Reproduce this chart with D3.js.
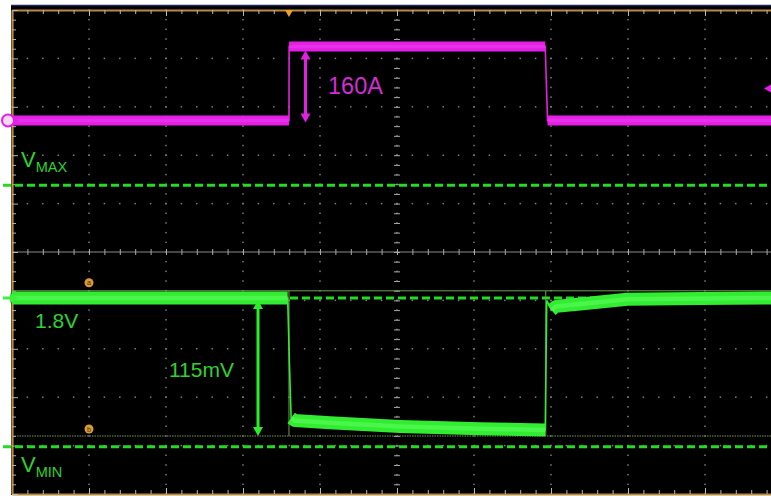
<!DOCTYPE html>
<html><head><meta charset="utf-8">
<script src="https://cdn.jsdelivr.net/npm/d3@7"></script>
<style>html,body{margin:0;padding:0;background:#fff;overflow:hidden}</style>
</head><body>
<svg id="c" width="771" height="496"></svg>
<script>
// ---------------- DATA ----------------
// time axis in divisions (10 div across screen, 0 = centre)
const xDivs = [-5, 5];
const yDivs = [-5, 5];
// Channel 1 : load current step (A)
const iTime = [-5.0, -1.403, -1.401, 1.925, 1.955, 5.0];
const iAmps = [0, 0, 160, 160, 0, 0];
const iTrigLevel = 69;            // A
const iStepLabel = "160A";
// Channel 2 : output voltage deviation from 1.8 V (mV)
const vTime = [-5.0, -3.5, -2.5, -1.42, -1.396, -1.375, -1.33, -0.87, 0.04, 1.08, 1.925,
               1.945, 2.006, 2.065, 2.38, 2.99, 3.94, 4.86];
const vDev  = [0, 0, 0, 0, -57, -100, -102, -104, -107, -109, -110,
               -2, -10, -7, -5, -1, -0.5, 0];
const vNominalLabel = "1.8V";
const vMaxDev = 94;     // mV  (V_MAX limit)
const vMinDev = -124;   // mV  (V_MIN limit)
const cursorA = 6;      // mV
const cursorB = -115;   // mV
const vDropLabel = "115mV";
const edgeTimes = [-1.403, 1.932];

// ---------------- SCALES ----------------
const svg = d3.select("#c");
const x = d3.scaleLinear().domain(xDivs).range([12, 782]);
const yDiv = d3.scaleLinear().domain(yDivs).range([494, 10]);
const yI = d3.scaleLinear().domain([0, 160]).range([120.5, 46.5]);
const yV = d3.scaleLinear().domain([-115, 0]).range([436, 298]);

const GRID = "#7c7c7c", BORDER = "#b88a3e", TICK = "#b8b8b8";
const MAG = "#e41fe4", MAGT = "#d42cd4";
const GRN = "#32ec32", GRNT = "#2ed22e", DASH = "#22dc22", CUR = "#6f9f4f";
const FONT = "'Liberation Sans', Arial, sans-serif";

// background
svg.append("rect").attr("x", 0).attr("y", 0).attr("width", 771).attr("height", 496).attr("fill", "#fff");
svg.append("rect").attr("x", 8).attr("y", 5).attr("width", 763).attr("height", 490).attr("fill", "#000");
svg.append("line").attr("x1", 8).attr("x2", 771).attr("y1", 5.5).attr("y2", 5.5).attr("stroke", "#23235f").attr("stroke-width", 1.5);
svg.append("rect").attr("x", 0).attr("y", 0).attr("width", 11).attr("height", 496).attr("fill", "#fff");

// ---------------- GRID (dots) ----------------
const majorX = d3.range(-4, 5, 1).filter(d => d !== 0);
const majorY = d3.range(-4, 5, 1).filter(d => d !== 0);
const minorX = d3.range(-5, 5.001, 0.2);
const minorY = d3.range(-5, 5.001, 0.2);
const dots = svg.append("g");
function dot(px, py) {
  dots.append("rect").attr("x", px - 0.75).attr("y", py - 0.75).attr("width", 1.5).attr("height", 1.5).attr("fill", GRID);
}
majorX.forEach(mx => minorY.forEach(my => dot(x(mx), yDiv(my))));
majorY.forEach(my => minorX.forEach(mx => dot(x(mx), yDiv(my))));
minorY.forEach(my => dot(x(0), yDiv(my)));
// horizontal centre solid
svg.append("line").attr("x1", 12).attr("x2", 771).attr("y1", yDiv(0)).attr("y2", yDiv(0)).attr("stroke", "#8a8a8a").attr("stroke-width", 1);

const styleAxis = (g, col) => { g.selectAll(".tick line").attr("stroke", col); g.selectAll("text").remove(); };
// centre ticks
svg.append("g").attr("transform", `translate(0,${yDiv(0) - 3})`)
  .call(d3.axisBottom(x).tickValues(minorX).tickSize(6).tickFormat(""))
  .call(g => { g.select(".domain").remove(); styleAxis(g, "#a8a8a8"); });
svg.append("g").attr("transform", `translate(${x(0) - 3},0)`)
  .call(d3.axisRight(yDiv).tickValues(minorY).tickSize(6).tickFormat(""))
  .call(g => { g.select(".domain").remove(); styleAxis(g, "#a8a8a8"); });

// ---------------- BORDERS (axes) ----------------
const tickLen = d => (Math.abs(d - Math.round(d)) < 1e-6 ? 6 : 4);
const topAx = svg.append("g").attr("transform", "translate(0,10)")
  .call(d3.axisBottom(x).tickValues(minorX).tickSizeOuter(0).tickFormat(""));
const botAx = svg.append("g").attr("transform", "translate(0,494)")
  .call(d3.axisTop(x).tickValues(minorX).tickSizeOuter(0).tickFormat(""));
const leftAx = svg.append("g").attr("transform", "translate(12,0)")
  .call(d3.axisRight(yDiv).tickValues(minorY).tickSizeOuter(0).tickFormat(""));
topAx.selectAll(".tick line").attr("y2", d => tickLen(d));
botAx.selectAll(".tick line").attr("y2", d => -tickLen(d));
leftAx.selectAll(".tick line").attr("x2", d => tickLen(d));
[topAx, botAx, leftAx].forEach(g => {
  g.select(".domain").attr("stroke", BORDER).attr("stroke-width", 2.2);
  g.selectAll(".tick line").attr("stroke", TICK);
});

// ---------------- LIMIT LINES ----------------
const dashLine = (y, x1) => svg.append("line").attr("x1", x1).attr("x2", 771).attr("y1", y).attr("y2", y)
  .attr("stroke", DASH).attr("stroke-width", 3).attr("stroke-dasharray", "8,4");
dashLine(yV(vMaxDev), 3);
dashLine(yV(vMinDev), 3);
dashLine(yV(0), x(edgeTimes[0]) + 1);
// cursors
svg.append("line").attr("x1", 12).attr("x2", 771).attr("y1", yV(cursorA)).attr("y2", yV(cursorA))
  .attr("stroke", CUR).attr("stroke-width", 1);
svg.append("line").attr("x1", 12).attr("x2", 771).attr("y1", yV(cursorB)).attr("y2", yV(cursorB))
  .attr("stroke", CUR).attr("stroke-width", 1).attr("stroke-dasharray", "1.5,1");
edgeTimes.forEach(t => svg.append("line").attr("x1", x(t)).attr("x2", x(t))
  .attr("y1", yV(cursorA)).attr("y2", yV(cursorB)).attr("stroke", CUR).attr("stroke-width", 1));

// ---------------- TRACES ----------------
function drawTrace(times, vals, ys, col, thick, core) {
  const pts = times.map((t, i) => [x(t), ys(vals[i])]);
  const line = d3.line();
  svg.append("path").attr("d", line(pts)).attr("fill", "none").attr("stroke", col).attr("stroke-width", 1.6);
  const runs = []; let cur = null;
  for (let i = 0; i < pts.length - 1; i++) {
    const dx = pts[i + 1][0] - pts[i][0], dy = Math.abs(pts[i + 1][1] - pts[i][1]);
    const flat = dx > 0 && dy / dx < 1.5;
    if (flat) { if (!cur) { cur = [pts[i]]; runs.push(cur); } cur.push(pts[i + 1]); }
    else cur = null;
  }
  runs.forEach(r => {
    svg.append("path").attr("d", line(r)).attr("fill", "none").attr("stroke", col)
      .attr("stroke-width", thick).attr("stroke-linejoin", "round");
    svg.append("path").attr("d", line(r)).attr("fill", "none").attr("stroke", core)
      .attr("stroke-width", thick * 0.35).attr("stroke-opacity", 0.5);
  });
}
drawTrace(iTime, iAmps, yI, MAG, 10, "#f040f0");
drawTrace(vTime, vDev, yV, GRN, 13, "#60ff60");

// ---------------- ARROWS ----------------
function vArrow(xp, y1, y2, col) {
  const g = svg.append("g");
  g.append("line").attr("x1", xp).attr("x2", xp).attr("y1", y1 + 6).attr("y2", y2 - 6)
    .attr("stroke", col).attr("stroke-width", 3);
  g.append("path").attr("d", `M${xp},${y1} L${xp - 5},${y1 + 9} L${xp + 5},${y1 + 9} Z`).attr("fill", col);
  g.append("path").attr("d", `M${xp},${y2} L${xp - 5},${y2 - 9} L${xp + 5},${y2 - 9} Z`).attr("fill", col);
}
vArrow(305.5, yI(160) + 4, yI(0) + 2, MAG);
vArrow(258, yV(0) + 2, yV(cursorB), "#2aee2a");

// ---------------- TEXT ----------------
svg.append("text").attr("x", 328).attr("y", 93.5).attr("font-family", FONT).attr("font-size", 23.5)
  .attr("fill", MAGT).text(iStepLabel);
svg.append("text").attr("x", 169).attr("y", 377).attr("font-family", FONT).attr("font-size", 21)
  .attr("fill", GRNT).text(vDropLabel);
svg.append("text").attr("x", 35).attr("y", 328).attr("font-family", FONT).attr("font-size", 21)
  .attr("fill", GRNT).text(vNominalLabel);
function vLabel(yb, sub) {
  const t = svg.append("text").attr("x", 21).attr("y", yb).attr("font-family", FONT).attr("fill", GRNT);
  t.append("tspan").attr("font-size", 22).text("V");
  t.append("tspan").attr("font-size", 14.5).attr("dy", 5).text(sub);
}
vLabel(167, "MAX");
vLabel(472, "MIN");

// cursor labels
function curLabel(yc, ch) {
  svg.append("circle").attr("cx", x(-4)).attr("cy", yc).attr("r", 4.5).attr("fill", "#d89a3a");
  svg.append("text").attr("x", x(-4)).attr("y", yc + 2.5).attr("text-anchor", "middle")
    .attr("font-family", FONT).attr("font-size", 7).attr("fill", "#4a2a00").text(ch);
}
curLabel(yV(cursorA) - 8, "a");
curLabel(yV(cursorB) - 7, "b");

// ---------------- MARKERS ----------------
svg.append("path").attr("d", `M${x(iTime[1]) - 4},10 L${x(iTime[1]) + 4},10 L${x(iTime[1])},17 Z`).attr("fill", "#f0a020");
svg.append("path").attr("d", `M764,${yI(iTrigLevel)} L771,${yI(iTrigLevel) - 4} L771,${yI(iTrigLevel) + 4} Z`).attr("fill", MAG);
svg.append("circle").attr("cx", 8).attr("cy", yI(0)).attr("r", 6).attr("fill", "#f6d8f6").attr("stroke", MAG).attr("stroke-width", 2);
svg.append("path").attr("d", `M14,${yI(0) - 3} L19,${yI(0)} L14,${yI(0) + 3} Z`).attr("fill", MAG);
svg.append("line").attr("x1", 3).attr("x2", 12).attr("y1", yV(0)).attr("y2", yV(0)).attr("stroke", "#3ef03e").attr("stroke-width", 3);
svg.append("path").attr("d", `M10,${yV(0) - 5} L18,${yV(0)} L10,${yV(0) + 5} Z`).attr("fill", "#3ef03e");
</script>
</body></html>
